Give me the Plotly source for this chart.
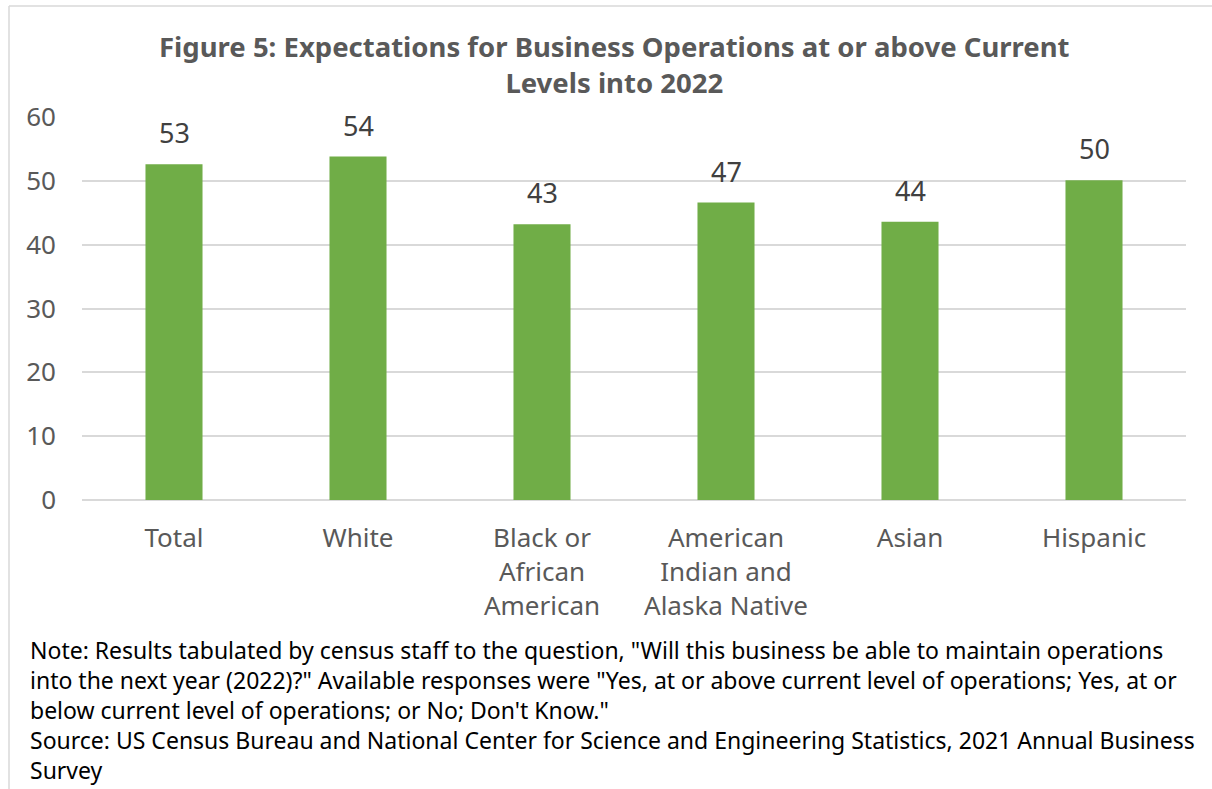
import plotly.graph_objects as go

categories = ["Total", "White", "Black or<br>African<br>American", "American<br>Indian and<br>Alaska Native", "Asian", "Hispanic"]
values = [52.6, 53.8, 43.2, 46.6, 43.6, 50.1]
labels = ["53", "54", "43", "47", "44", "50"]
y_ticks = [0, 10, 20, 30, 40, 50, 60]

title_text = "Figure 5: Expectations for Business Operations at or above Current<br>Levels into 2022"
note_text = ("Note: Results tabulated by census staff to the question, \"Will this business be able to maintain operations<br>"
             "into the next year (2022)?\" Available responses were \"Yes, at or above current level of operations; Yes, at or<br>"
             "below current level of operations; or No; Don't Know.\"<br>"
             "Source: US Census Bureau and National Center for Science and Engineering Statistics, 2021 Annual Business<br>"
             "Survey")

FONT = "Noto Sans"
W, H = 1212, 789
L, R, T, B = 82, 26, 117, 289
PW, PH = W - L - R, H - T - B

def px(x):
    return (x - L) / PW

def py(y):
    return (H - B - y) / PH

fig = go.Figure()
fig.add_trace(go.Bar(
    x=categories, y=values, marker=dict(color="#70ad47", line=dict(width=0)),
    width=0.31, hoverinfo="skip",
))

annotations = []
for c, v, t in zip(categories, values, labels):
    annotations.append(dict(x=c, y=v, xref="x", yref="y", text=t, showarrow=False,
                            yanchor="bottom", yshift=11,
                            font=dict(family=FONT, size=27, color="#404040")))

annotations.append(dict(x=px(614), y=py(26), xref="paper", yref="paper",
                        text="<b>" + title_text.replace("<br>", "</b><br><b>") + "</b>",
                        showarrow=False, xanchor="center", yanchor="top", align="center",
                        font=dict(family=FONT, size=27.5, color="#595959")))
annotations.append(dict(x=px(28), y=py(632), xref="paper", yref="paper", text=note_text,
                        showarrow=False, xanchor="left", yanchor="top", align="left",
                        font=dict(family=FONT, size=23, color="#000000")))

shapes = [
    dict(type="line", xref="paper", yref="paper", x0=px(9), x1=px(1215), y0=py(6), y1=py(6),
         line=dict(color="#d9d9d9", width=1.5)),
    dict(type="line", xref="paper", yref="paper", x0=px(9), x1=px(9), y0=py(6), y1=py(795),
         line=dict(color="#d9d9d9", width=1.5)),
]

fig.update_layout(
    width=W, height=H, margin=dict(l=L, r=R, t=T, b=B),
    paper_bgcolor="white", plot_bgcolor="white",
    showlegend=False, annotations=annotations, shapes=shapes,
    font=dict(family=FONT, color="#595959"),
)
fig.update_xaxes(showline=False, showgrid=False, ticks="", tickfont=dict(family=FONT, size=26, color="#595959"),
                 ticklabelstandoff=20)
fig.update_yaxes(range=[0, 60], tickvals=y_ticks, showgrid=True, gridcolor="#d9d9d9", gridwidth=1.5,
                 zeroline=True, zerolinecolor="#d9d9d9", zerolinewidth=1.5, showline=False,
                 tickfont=dict(family=FONT, size=26, color="#595959"), ticks="", ticklabelstandoff=25)

fig.write_html("out.html")
